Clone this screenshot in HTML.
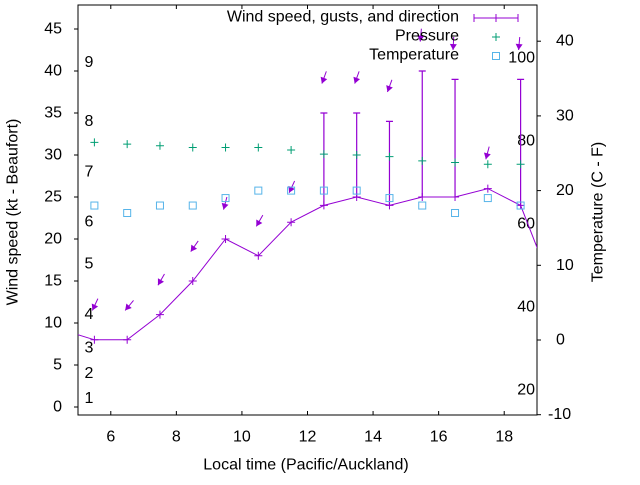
<!DOCTYPE html>
<html><head><meta charset="utf-8"><style>
body{margin:0;background:#fff}
svg text{font-family:"Liberation Sans",sans-serif;font-size:16px;fill:#000}
</style></head><body>
<svg id="chart" width="640" height="480" viewBox="0 0 640 480" xmlns="http://www.w3.org/2000/svg">
<g id="g"></g>
</svg>
<script>
const times=[5.5,6.5,7.5,8.5,9.5,10.5,11.5,12.5,13.5,14.5,15.5,16.5,17.5,18.5];
const windSpeed=[8,8,11,15,20,18,22,24,25,24,25,25,26,24];
const windEdgeTimes=[4.5,19.5];
const windEdgeValues=[9.2,14];
const gusts=[null,null,null,null,null,null,null,35,35,34,40,39,null,39];
const direction=[25,40,30,35,15,30,25,20,20,20,5,3,15,5];
const pressure=[31.5,31.3,31.1,30.9,30.9,30.9,30.6,30.1,30,29.8,29.3,29.1,28.9,28.9];
const temperature=[18,17,18,18,19,20,20,20,20,19,18,17,19,18];
const xTicks=[6,8,10,12,14,16,18];
const yTicks=[0,5,10,15,20,25,30,35,40,45];
const y2Ticks=[-10,0,10,20,30,40];
const fahrenheit=[20,40,60,80,100];
const beaufort=[1,4,7,11,17,22,28,34,41];

const L=78,R=537,T=5,B=415;
const xs=t=>L+(t-5)*(R-L)/14;
const ys=v=>407-v*8.4;
const y2s=c=>340-c*7.47;
const NS="http://www.w3.org/2000/svg";
const g=document.getElementById('g');
function mk(tag,attrs,parent){const e=document.createElementNS(NS,tag);for(const k in attrs)e.setAttribute(k,attrs[k]);(parent||g).appendChild(e);return e;}
function txt(x,y,s,anchor,parent){const e=mk('text',{x:x,y:y,'text-anchor':anchor||'start','dominant-baseline':'central'},parent);e.textContent=s;return e;}
const purple="#9400d3",green="#009e73",blue="#56b4e9";

const ax=mk('g',{});


mk('rect',{x:L,y:T,width:R-L,height:B-T,fill:'none',stroke:'#000','stroke-width':1},ax);
yTicks.forEach(v=>{const y=ys(v);mk('line',{x1:L-4,x2:L,y1:y,y2:y,stroke:'#000'},ax);
 const t=txt(L-16,y,String(v),'end',ax);
 
 });
y2Ticks.forEach(v=>{const y=y2s(v);mk('line',{x1:R,x2:R+4,y1:y,y2:y,stroke:'#000'},ax);
 const t=txt(R+(v<0?11:19),y,String(v),'start',ax);
 
 });
xTicks.forEach(v=>{const x=xs(v);mk('line',{x1:x,x2:x,y1:B,y2:B-4,stroke:'#000'},ax);mk('line',{x1:x,x2:x,y1:T,y2:T+4,stroke:'#000'},ax);
 const t=txt(x,437,String(v),'middle',ax);
 
 });
fahrenheit.forEach(f=>{const t=txt(R-2,y2s((f-32)*5/9),String(f),'end',ax);
 
 });
beaufort.forEach((v,i)=>{const t=txt(89,ys(v),String(i+1),'middle',ax);
 
 });
let t=txt(306,465,'Local time (Pacific/Auckland)','middle');


t=txt(0,0,'Wind speed (kt - Beaufort)','middle');t.setAttribute('transform','translate(13,212) rotate(-90)');


t=txt(0,0,'Temperature (C - F)','middle');t.setAttribute('transform','translate(598,212) rotate(-90)');



const defs=mk('defs',{});const cp=mk('clipPath',{id:'clip'},defs);mk('rect',{x:L,y:T,width:R-L,height:B-T},cp);
const plot=mk('g',{'clip-path':'url(#clip)'});



const allT=[windEdgeTimes[0],...times,windEdgeTimes[1]];
const allV=[windEdgeValues[0],...windSpeed,windEdgeValues[1]];
const wl=mk('polyline',{points:allT.map((tt,i)=>xs(tt)+','+ys(allV[i])).join(' '),fill:'none',stroke:purple,'stroke-width':1},plot);


times.forEach((tt,i)=>{const x=xs(tt),y=ys(windSpeed[i]);
 const p=mk('path',{d:`M${x-4},${y}H${x+4}M${x},${y-4}V${y+4}`,stroke:purple,'stroke-width':1},plot);
 
 
 if(gusts[i]!=null){const yg=ys(gusts[i]);
  const e=mk('path',{d:`M${x},${y}V${yg}M${x-3.5},${yg}H${x+3.5}`,stroke:purple,'stroke-width':1.2,fill:'none'},plot);
  
  }
});
times.forEach((tt,i)=>{const top=Math.max(windSpeed[i],gusts[i]||0)+3.5;
 const hx=xs(tt)-2,hy=ys(top);const a=direction[i]*Math.PI/180,len=13;
 const tx=hx+Math.sin(a)*len,ty=hy-Math.cos(a)*len;
 const ux=(hx-tx)/len,uy=(hy-ty)/len;const bx=hx-ux*6,by=hy-uy*6;
 const grp=mk('g',{},plot);
 
 
 mk('line',{x1:tx,y1:ty,x2:hx,y2:hy,stroke:purple,'stroke-width':1},grp);
 mk('polygon',{points:`${hx},${hy} ${bx-uy*3.5},${by+ux*3.5} ${bx+uy*3.5},${by-ux*3.5}`,fill:purple},grp);
});
times.forEach((tt,i)=>{const x=xs(tt),y=ys(pressure[i]);
 const p=mk('path',{d:`M${x-4},${y}H${x+4}M${x},${y-4}V${y+4}`,stroke:green,'stroke-width':1},plot);
 
 });
times.forEach((tt,i)=>{const x=xs(tt),y=y2s(temperature[i]);
 const r=mk('rect',{x:x-3.5,y:y-3.5,width:7,height:7,fill:'none',stroke:blue,'stroke-width':1},plot);
 
 });

const lg=mk('g',{});


let e=txt(459,17,'Wind speed, gusts, and direction','end',lg);


mk('path',{d:'M474,18H518M474,14V22M518,14V22M496,14V22',stroke:purple,'stroke-width':1},lg);
e=txt(459,36,'Pressure','end',lg);


mk('path',{d:'M492,37H500M496,33V41',stroke:green},lg);
e=txt(459,55,'Temperature','end',lg);


mk('rect',{x:492.5,y:52.5,width:7,height:7,fill:'none',stroke:blue},lg);
</script>
</body></html>
